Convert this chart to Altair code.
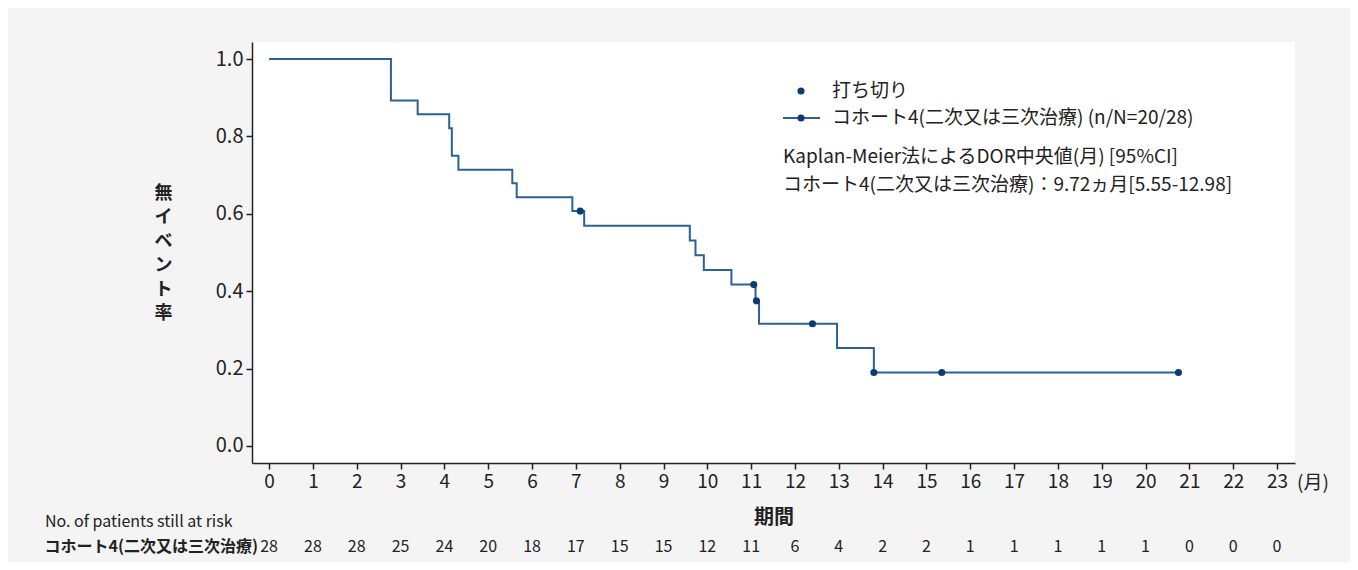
import altair as alt
import pandas as pd

# Kaplan-Meier step curve (time in months, event-free rate)
step_time = [0, 2.78, 3.39, 4.11, 4.17, 4.32, 5.55, 5.65, 6.92, 7.19, 9.60, 9.73,
             9.92, 10.55, 11.10, 11.18, 12.96, 13.80, 20.75]
step_surv = [1.0, 0.893, 0.857, 0.821, 0.750, 0.714, 0.679, 0.643, 0.607, 0.569, 0.531,
             0.493, 0.455, 0.417, 0.375, 0.316, 0.253, 0.190, 0.190]
# censored observations
censor_time = [7.10, 11.06, 11.12, 12.40, 13.80, 15.35, 20.75]
censor_surv = [0.607, 0.417, 0.375, 0.316, 0.190, 0.190, 0.190]
# number at risk table
risk_month = list(range(24))
risk_count = [28, 28, 28, 25, 24, 20, 18, 17, 15, 15, 12, 11, 6, 4, 2, 2, 1, 1, 1, 1, 1, 0, 0, 0]
x_ticks = list(range(24))
y_ticks = [0.0, 0.2, 0.4, 0.6, 0.8, 1.0]

legend_censor = "打ち切り"
legend_series = "コホート4(二次又は三次治療) (n/N=20/28)"
note_lines = ["Kaplan-Meier法によるDOR中央値(月) [95%CI]",
              "コホート4(二次又は三次治療)：9.72ヵ月[5.55-12.98]"]
risk_header = "No. of patients still at risk"
risk_label = "コホート4(二次又は三次治療)"
y_title = ["無", "イ", "ベ", "ン", "ト", "率"]
x_title = "期間"
x_unit = "(月)"

LINE = "#2e6096"
DOT = "#0b3b73"
FONT = "Noto Sans CJK JP"
TXT = "#222222"

step_df = pd.DataFrame({"t": step_time, "s": step_surv})
cens_df = pd.DataFrame({"t": censor_time, "s": censor_surv})
risk_df = pd.DataFrame({"m": risk_month, "n": risk_count})

xs = alt.Scale(domain=[-0.39, 23.41], nice=False, zero=False)
ys = alt.Scale(domain=[-0.044, 1.044], nice=False, zero=False)

x_axis = alt.Axis(values=x_ticks, format="d", labelFontSize=19, tickSize=6,
                  labelPadding=3, grid=False, title=x_title, titleFontSize=20,
                  titleFontWeight="bold", titleY=54, titleBaseline="middle",
                  labelFlush=False)
y_axis = alt.Axis(values=y_ticks, format=".1f", labelFontSize=20, tickSize=6,
                  labelPadding=3, grid=False, title=y_title, titleAngle=0,
                  titleFontSize=18, titleFontWeight="bold", titleX=-89, titleY=142,
                  titleAlign="center", titleBaseline="top", titleLineHeight=24)

curve = alt.Chart(step_df).mark_line(interpolate="step-after", color=LINE, strokeWidth=2).encode(
    x=alt.X("t:Q", scale=xs, axis=x_axis),
    y=alt.Y("s:Q", scale=ys, axis=y_axis),
)
cens = alt.Chart(cens_df).mark_point(filled=True, size=50, color=DOT, opacity=1).encode(
    x=alt.X("t:Q", scale=xs),
    y=alt.Y("s:Q", scale=ys),
)
risk = alt.Chart(risk_df).mark_text(fontSize=16, color=TXT, font=FONT).encode(
    x=alt.X("m:Q", scale=xs),
    y=alt.value(505),
    text="n:Q",
)

one = pd.DataFrame({"k": [0]})


def label(text, x, y, size=19, align="left", weight="normal", color=TXT):
    return alt.Chart(one).mark_text(align=align, baseline="middle", fontSize=size,
                                    fontWeight=weight, color=color, font=FONT).encode(
        x=alt.value(x), y=alt.value(y), text=alt.value(text))


leg_dot1 = alt.Chart(one).mark_point(filled=True, size=50, color=DOT, opacity=1).encode(
    x=alt.value(549), y=alt.value(49))
leg_rule = alt.Chart(one).mark_rule(color=LINE, strokeWidth=2).encode(
    x=alt.value(531), x2=alt.value(568), y=alt.value(76))
leg_dot2 = alt.Chart(one).mark_point(filled=True, size=50, color=DOT, opacity=1).encode(
    x=alt.value(549), y=alt.value(76))

texts = [
    label(legend_censor, 580, 49),
    label(legend_series, 580, 76),
    label(note_lines[0], 531, 115),
    label(note_lines[1], 531, 143),
    label(x_unit, 1061, 441, size=19, align="center"),
    label(risk_header, -207, 480, size=16),
    label(risk_label, 6, 505, size=16, align="right", weight="bold"),
]

chart = alt.layer(curve, cens, risk, leg_rule, leg_dot1, leg_dot2, *texts).properties(
    width=1043, height=421,
    autosize=alt.AutoSizeParams(type="none"),
    padding={"left": 244, "top": 34, "right": 55, "bottom": 99},
    background="#f4f4f4",
).configure(font=FONT).configure_view(fill="white", stroke=None).configure_axis(
    domainColor=TXT, domainWidth=1.5, tickColor=TXT, tickWidth=1.5,
    labelColor=TXT, titleColor=TXT, labelFont=FONT, titleFont=FONT,
)

chart.save("out.html", embed_options={"renderer": "svg", "actions": False})
